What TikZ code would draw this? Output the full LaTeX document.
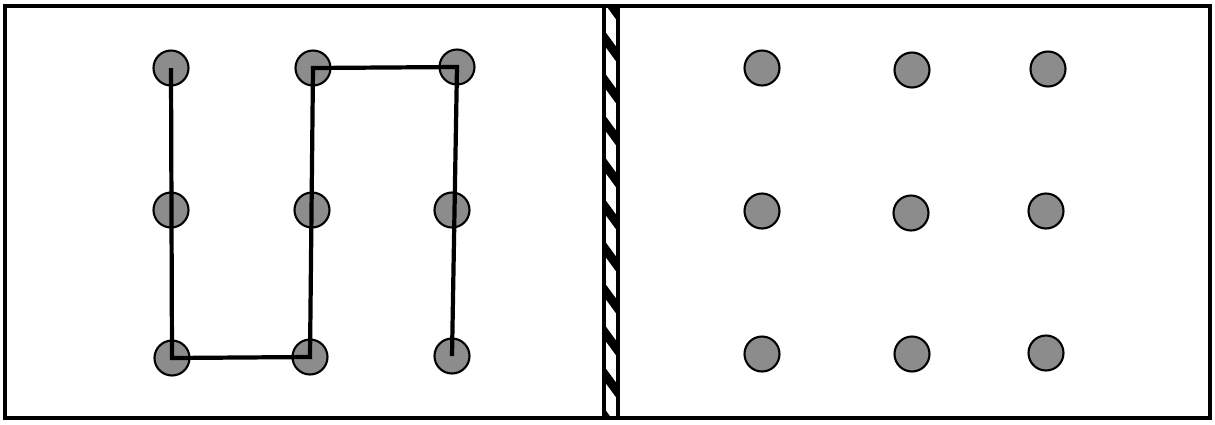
\documentclass[tikz,border=0pt]{standalone}
\begin{document}
\begin{tikzpicture}[x=0.02cm,y=-0.02cm,
  frame/.style={line width=1.9pt},
  dot/.style={circle,draw=black,line width=1.2pt,fill=black!45,minimum size=0.7cm,inner sep=0pt},
  path/.style={line width=2.4pt,line join=miter}]
\useasboundingbox (0,0) rectangle (1215,424);
\draw[frame] (5,6) rectangle (1210,418);
% divider
\begin{scope}
\clip (604,6) rectangle (618,418);
\foreach \y in {-10,32,...,440}{
  \draw[line width=5pt] (600,\y) -- (622,\y+30);
}
\end{scope}
\draw[frame] (604,6) -- (604,418);
\draw[frame] (618,6) -- (618,418);
% left dots
\node[dot] (a1) at (171,68) {};
\node[dot] (a2) at (313,68) {};
\node[dot] (a3) at (457,67) {};
\node[dot] (b1) at (171,210) {};
\node[dot] (b2) at (312,210) {};
\node[dot] (b3) at (452,210) {};
\node[dot] (c1) at (172,358) {};
\node[dot] (c2) at (310,357) {};
\node[dot] (c3) at (452,356) {};
% right dots
\node[dot] (d1) at (762,68) {};
\node[dot] (d2) at (912,70) {};
\node[dot] (d3) at (1048,69) {};
\node[dot] (e1) at (762,211) {};
\node[dot] (e2) at (911,213) {};
\node[dot] (e3) at (1046,211) {};
\node[dot] (f1) at (762,354) {};
\node[dot] (f2) at (912,354) {};
\node[dot] (f3) at (1046,353) {};
% route
\draw[path] (a1.center) -- (c1.center) -- (c2.center) -- (a2.center) -- (a3.center) -- (c3.center);
\end{tikzpicture}
\end{document}
